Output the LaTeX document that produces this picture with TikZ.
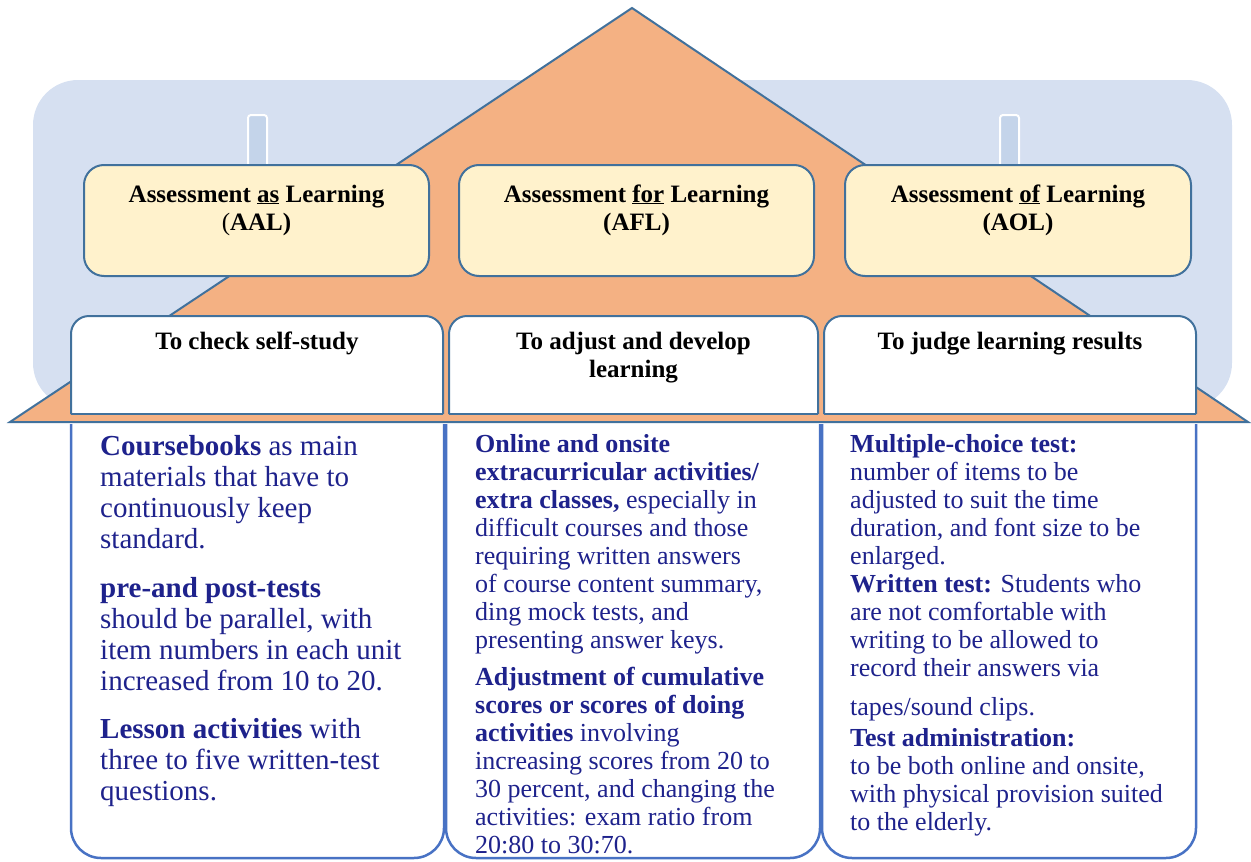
\documentclass[tikz,border=0pt]{standalone}
\usepackage{fontspec}
\setmainfont{Liberation Serif}
\definecolor{wallblue}{RGB}{214,224,241}
\definecolor{pillarblue}{RGB}{196,212,234}
\definecolor{rooforange}{RGB}{244,177,131}
\definecolor{edgeblue}{RGB}{65,113,156}
\definecolor{boxyellow}{RGB}{255,242,204}
\definecolor{colblue}{RGB}{72,114,196}
\definecolor{inkblue}{RGB}{30,34,140}

\begin{document}
\begin{tikzpicture}[x=1pt,y=-1pt,
  pillar/.style={fill=pillarblue, draw=white, line width=2pt, rounded corners=3pt},
  headbox/.style={draw=edgeblue, fill=boxyellow, line width=2pt, rounded corners=20pt, minimum width=345pt, minimum height=111pt},
  aimbox/.style={draw=edgeblue, fill=white, line width=2pt, rounded corners=18pt},
  colbox/.style={draw=colblue, fill=white, line width=2.5pt, rounded corners=30pt},
  headtext/.style={font=\fontsize{25}{28}\selectfont\bfseries, align=center, anchor=base, inner sep=0pt},
  bigtext/.style={font=\fontsize{29}{31}\selectfont, text=inkblue, align=left, anchor=base west, inner sep=0pt},
  smalltext/.style={font=\fontsize{26}{28}\selectfont, text=inkblue, align=left, anchor=base west, inner sep=0pt}]
\useasboundingbox (0,0) rectangle (1251,862);
\fill[wallblue, rounded corners=45pt] (33,80) rectangle (1232,408);
\path[pillar] (248,115) rectangle (267,172);
\path[pillar] (1000,115) rectangle (1019,172);
\filldraw[fill=rooforange, draw=edgeblue, line width=2pt] (632,8) -- (1248,422) -- (10,422) -- cycle;
\path (256.5,220.5) node (aal) [headbox] {};
\path (636.5,220.5) node (afl) [headbox, minimum width=355pt] {};
\path (1018,220.5) node (aol) [headbox, minimum width=346pt] {};
\filldraw[aimbox] (71,414) -- (71,316) -- (443,316) -- (443,414);
\filldraw[aimbox] (449,414) -- (449,316) -- (818,316) -- (818,414);
\filldraw[aimbox] (824,414) -- (824,316) -- (1196,316) -- (1196,414);
\draw[edgeblue, line width=2pt] (71,414) -- (443,414) (449,414) -- (818,414) (824,414) -- (1196,414);
\filldraw[colbox] (71,424) -- (71,858) -- (444,858) -- (444,424);
\filldraw[colbox] (446,424) -- (446,858) -- (820,858) -- (820,424);
\filldraw[colbox] (822,424) -- (822,858) -- (1196,858) -- (1196,424);
\path (256.5,230) node (aaltext) [headtext] {Assessment \underline{as} Learning\\{\mdseries(}AAL)};
\path (636.5,230) node (afltext) [headtext] {Assessment \underline{for} Learning\\(AFL)};
\path (1018,230) node (aoltext) [headtext] {Assessment \underline{of} Learning\\(AOL)};
\path (257,349) node (selfstudy) [headtext] {To check self-study};
\path (633.5,377) node (develop) [headtext] {To adjust and develop\\learning};
\path (1010,349) node (judge) [headtext] {To judge learning results};
\path (100,548) node (books) [bigtext] {\textbf{Coursebooks} as main\\materials that have to\\continuously keep\\standard.};
\path (100,690) node (tests) [bigtext] {\textbf{pre-and post-tests}\\should be parallel, with\\item numbers in each unit\\increased from 10 to 20.};
\path (100,800) node (lessons) [bigtext] {\textbf{Lesson activities} with\\three to five written-test\\questions.};
\path (475,648) node (extra) [smalltext] {\textbf{Online and onsite}\\\textbf{extracurricular activities/}\\\textbf{extra classes,} especially in\\difficult courses and those\\requiring written answers\\of course content summary,\\ding mock tests, and\\presenting answer keys.};
\path (475,853) node (scores) [smalltext] {\textbf{Adjustment of cumulative}\\\textbf{scores or scores of doing}\\\textbf{activities} involving\\increasing scores from 20 to\\30 percent, and changing the\\activities: exam ratio from\\20:80 to 30:70.};
\path (850,564) node (choice) [smalltext] {\textbf{Multiple-choice test:}\\number of items to be\\adjusted to suit the time\\duration, and font size to be\\enlarged.};
\path (850,715) node (written) [smalltext] {\textbf{Written test:} Students who\\are not comfortable with\\writing to be allowed to\\record their answers via\\[11pt]tapes/sound clips.};
\path (850,830) node (admin) [smalltext] {\textbf{Test administration:}\\to be both online and onsite,\\with physical provision suited\\to the elderly.};
\end{tikzpicture}
\end{document}
